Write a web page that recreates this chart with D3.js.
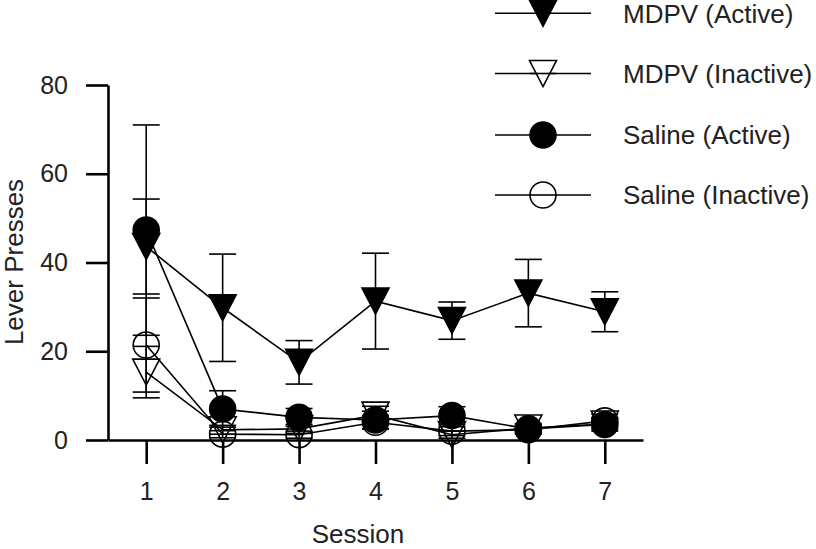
<!DOCTYPE html>
<html>
<head>
<meta charset="utf-8">
<script src="https://cdn.jsdelivr.net/npm/d3@7"></script>
<style>
  body { margin: 0; background: #fff; }
  text { font-family: "Liberation Sans", Arial, sans-serif; fill: #222; }
</style>
</head>
<body>
<div id="chart"></div>
<script>
var svgWidth = 816;
var svgHeight = 549;

// data (means and SEM)
var sessions = [1, 2, 3, 4, 5, 6, 7];
var yTicks = [0, 20, 40, 60, 80];

var mdpvActive = [43.6, 29.8, 17.5, 31.3, 26.9, 33.1, 28.9];
var mdpvActiveErr = [10.7, 12.1, 4.9, 10.8, 4.2, 7.6, 4.5];
var mdpvInactive = [15.3, 2.3, 2.5, 5.6, 1.2, 2.7, 3.6];
var mdpvInactiveErr = [5.8, 1.0, 1.0, 2.0, 0.8, 1.0, 1.2];
var salineActive = [47.3, 7.0, 5.1, 4.5, 5.5, 2.5, 3.5];
var salineActiveErr = [23.7, 4.1, 2.0, 2.0, 2.0, 1.0, 1.5];
var salineInactive = [21.4, 1.3, 1.2, 4.0, 2.0, 2.3, 4.3];
var salineInactiveErr = [10.6, 0.8, 0.8, 1.5, 1.0, 1.0, 1.5];

var seriesNames = ["MDPV (Active)", "MDPV (Inactive)", "Saline (Active)", "Saline (Inactive)"];

var series = [
  { name: seriesNames[0], values: mdpvActive, err: mdpvActiveErr, shape: "tri", filled: true },
  { name: seriesNames[1], values: mdpvInactive, err: mdpvInactiveErr, shape: "tri", filled: false },
  { name: seriesNames[2], values: salineActive, err: salineActiveErr, shape: "circle", filled: true },
  { name: seriesNames[3], values: salineInactive, err: salineInactiveErr, shape: "circle", filled: false }
];

var svg = d3.select("#chart")
  .append("svg")
  .attr("width", svgWidth)
  .attr("height", svgHeight);

var x = d3.scaleLinear().domain([0.5, 7.5]).range([108, 643]);
var y = d3.scaleLinear().domain([0, 80]).range([440, 85]);

// axes
var xAxis = svg.append("g")
  .attr("transform", "translate(0,440)")
  .call(d3.axisBottom(x).tickValues(sessions).tickFormat(d3.format("d"))
    .tickSize(24).tickSizeOuter(0).tickPadding(18));

var yAxis = svg.append("g")
  .attr("transform", "translate(108,0)")
  .call(d3.axisLeft(y).tickValues(yTicks).tickFormat(d3.format("d"))
    .tickSize(22).tickSizeOuter(0).tickPadding(18));

[xAxis, yAxis].forEach(function(a) {
  a.select(".domain").attr("stroke", "#000").attr("stroke-width", 2.6);
  a.selectAll(".tick line").attr("stroke", "#000").attr("stroke-width", 2.6);
  a.selectAll(".tick text").style("font-size", "25px").attr("fill", "#222");
});

// axis titles
svg.append("text")
  .attr("x", 358)
  .attr("y", 543)
  .attr("text-anchor", "middle")
  .style("font-size", "26px")
  .text("Session");

svg.append("text")
  .attr("transform", "translate(23,262) rotate(-90)")
  .attr("text-anchor", "middle")
  .style("font-size", "26px")
  .text("Lever Presses");

var tri = "M-13.5,-13L13.5,-13L0,13Z";

function drawMarker(g, s) {
  if (s.shape === "tri") {
    g.append("path").attr("d", tri);
  } else {
    g.append("circle").attr("r", 13);
  }
  g.selectAll("path, circle")
    .attr("fill", s.filled ? "#000" : "none")
    .attr("stroke", "#000")
    .attr("stroke-width", 1.6);
}

var line = d3.line()
  .x(function(d, i) { return x(sessions[i]); })
  .y(function(d) { return y(d); });

// error bars + lines first
series.forEach(function(s) {
  var g = svg.append("g");
  s.values.forEach(function(v, i) {
    var cx = x(sessions[i]);
    var top = y(v + s.err[i]);
    var bot = y(Math.max(0, v - s.err[i]));
    g.append("line").attr("x1", cx).attr("x2", cx).attr("y1", top).attr("y2", bot);
    g.append("line").attr("x1", cx - 13.5).attr("x2", cx + 13.5).attr("y1", top).attr("y2", top);
    g.append("line").attr("x1", cx - 13.5).attr("x2", cx + 13.5).attr("y1", bot).attr("y2", bot);
  });
  g.selectAll("line").attr("stroke", "#000").attr("stroke-width", 1.6);

  svg.append("path")
    .datum(s.values)
    .attr("d", line)
    .attr("fill", "none")
    .attr("stroke", "#000")
    .attr("stroke-width", 1.6);
});

// markers, saline active on top
[1, 3, 0, 2].forEach(function(k) {
  var s = series[k];
  s.values.forEach(function(v, i) {
    var g = svg.append("g")
      .attr("transform", "translate(" + x(sessions[i]) + "," + y(v) + ")");
    drawMarker(g, s);
  });
});

// legend
var legendRows = [13.3, 73.5, 135, 195];
series.forEach(function(s, k) {
  var ly = legendRows[k];
  svg.append("line")
    .attr("x1", 495).attr("x2", 591)
    .attr("y1", ly).attr("y2", ly)
    .attr("stroke", "#000")
    .attr("stroke-width", 1.6);
  var g = svg.append("g").attr("transform", "translate(543," + ly + ")");
  drawMarker(g, s);
  if (!s.filled) {
    g.select("path, circle").attr("fill", "#fff");
    g.append("line").attr("x1", -13).attr("x2", 13).attr("stroke", "#000").attr("stroke-width", 1.6);
  }
  svg.append("text")
    .attr("x", 623)
    .attr("y", ly + 9.3)
    .style("font-size", "26px")
    .text(s.name);
});
</script>
</body>
</html>
